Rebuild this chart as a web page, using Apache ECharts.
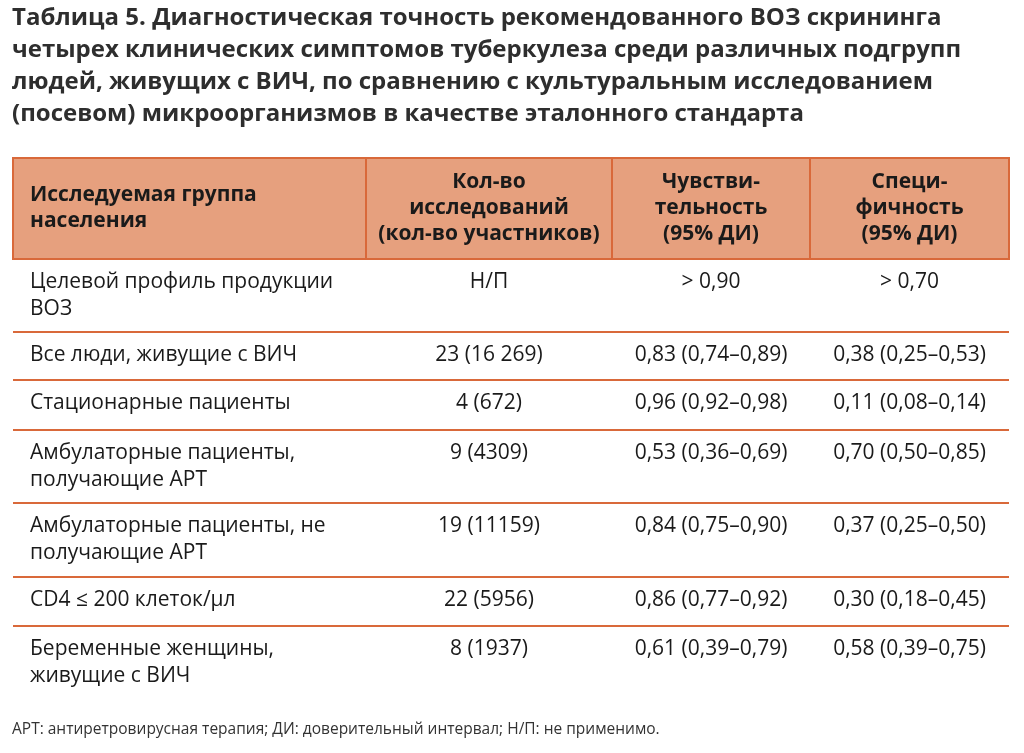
<!DOCTYPE html>
<html><head><meta charset="utf-8">
<script src="https://cdn.jsdelivr.net/npm/echarts@6/dist/echarts.min.js"></script>
<style>html,body{margin:0;padding:0;background:#fff}#c{width:1024px;height:753px}</style>
</head><body><div id="c"></div>
<script>
'use strict'
const titleLines = [
    'Таблица 5. Диагностическая точность рекомендованного ВОЗ скрининга',
    'четырех клинических симптомов туберкулеза среди различных подгрупп',
    'людей, живущих с ВИЧ, по сравнению с культуральным исследованием',
    '(посевом) микроорганизмов в качестве эталонного стандарта'
]
const headers = [
    'Исследуемая группа\nнаселения',
    'Кол-во\nисследований\n(кол-во участников)',
    'Чувстви-\nтельность\n(95% ДИ)',
    'Специ-\nфичность\n(95% ДИ)'
]
const groups = [
    'Целевой профиль продукции\nВОЗ',
    'Все люди, живущие с ВИЧ',
    'Стационарные пациенты',
    'Амбулаторные пациенты,\nполучающие АРТ',
    'Амбулаторные пациенты, не\nполучающие АРТ',
    'CD4 ≤ 200 клеток/µл',
    'Беременные женщины,\nживущие с ВИЧ'
]
const studies = ['Н/П', '23 (16 269)', '4 (672)', '9 (4309)', '19 (11159)', '22 (5956)', '8 (1937)']
const sensitivity = ['> 0,90', '0,83 (0,74–0,89)', '0,96 (0,92–0,98)', '0,53 (0,36–0,69)', '0,84 (0,75–0,90)', '0,86 (0,77–0,92)', '0,61 (0,39–0,79)']
const specificity = ['> 0,70', '0,38 (0,25–0,53)', '0,11 (0,08–0,14)', '0,70 (0,50–0,85)', '0,37 (0,25–0,50)', '0,30 (0,18–0,45)', '0,58 (0,39–0,75)']
const footnote = 'АРТ: антиретровирусная терапия; ДИ: доверительный интервал; Н/П: не применимо.'

const font = '"Open Sans", "Noto Sans", sans-serif'
const colX = [13, 366, 612, 810, 1009]
const headTop = 158, headBottom = 259
const rowBottoms = [332, 380, 430, 503, 577, 626, 697]
const orange = '#D9693A', fill = '#E6A07E', ink = '#1a1a1a'

let g = []
titleLines.forEach((t, i) => {
    g.push({type: 'text', left: 12, top: 6 + i * 32,
        style: {text: t, font: 'bold 24px ' + font, fill: '#2e2e2e'}})
})
g.push({type: 'rect', shape: {x: colX[0], y: headTop, width: colX[4] - colX[0], height: headBottom - headTop},
    style: {fill: fill, stroke: orange, lineWidth: 2}})
for (let k = 1; k < 4; k++) {
    g.push({type: 'line', shape: {x1: colX[k], y1: headTop, x2: colX[k], y2: headBottom},
        style: {stroke: orange, lineWidth: 2}})
}
headers.forEach((h, k) => {
    const center = k > 0
    g.push({type: 'text', x: center ? (colX[k] + colX[k + 1]) / 2 : colX[0] + 17, y: (headTop + headBottom) / 2,
        style: {text: h, font: 'bold 21px ' + font, fill: ink, align: center ? 'center' : 'left',
            verticalAlign: 'middle', lineHeight: 26}})
})
rowBottoms.forEach((b, i) => {
    const top = i === 0 ? headBottom : rowBottoms[i - 1]
    if (i < rowBottoms.length - 1) {
        g.push({type: 'line', shape: {x1: colX[0], y1: b, x2: colX[4], y2: b},
            style: {stroke: orange, lineWidth: 2}})
    }
    const cells = [groups[i], studies[i], sensitivity[i], specificity[i]]
    cells.forEach((c, k) => {
        const center = k > 0
        g.push({type: 'text', x: center ? (colX[k] + colX[k + 1]) / 2 : colX[0] + 17, y: top + 10,
            style: {text: c, font: '21px ' + font, fill: ink, align: center ? 'center' : 'left',
                verticalAlign: 'top', lineHeight: 27}})
    })
})
g.push({type: 'text', left: 12, top: 722, style: {text: footnote, font: '15.5px ' + font, fill: '#333'}})

const myChart = echarts.init(document.getElementById('c'))
myChart.setOption({animation: false, graphic: g})
</script></body></html>
